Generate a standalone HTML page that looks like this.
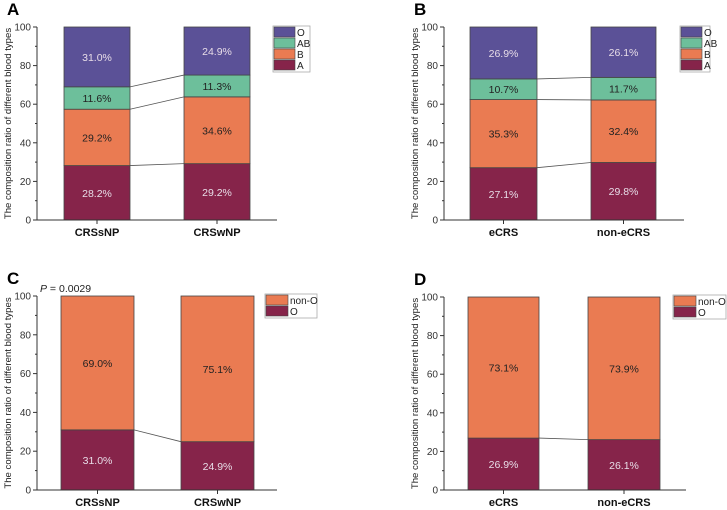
<!DOCTYPE html>
<html><head><meta charset="utf-8"><style>
body{margin:0;background:#fff}
svg{display:block;font-family:"Liberation Sans",Arial,sans-serif}
</style></head><body>
<svg id="fig" width="727" height="510" viewBox="0 0 727 510" xmlns="http://www.w3.org/2000/svg"></svg>
<script>
// Panel A
const catsA = ["CRSsNP","CRSwNP"];
const seriesA_A = [28.2,29.2];
const seriesA_B = [29.2,34.6];
const seriesA_AB = [11.6,11.3];
const seriesA_O = [31.0,24.9];
// Panel B
const catsB = ["eCRS","non-eCRS"];
const seriesB_A = [27.1,29.8];
const seriesB_B = [35.3,32.4];
const seriesB_AB = [10.7,11.7];
const seriesB_O = [26.9,26.1];
// Panel C
const catsC = ["CRSsNP","CRSwNP"];
const seriesC_O = [31.0,24.9];
const seriesC_nonO = [69.0,75.1];
// Panel D
const catsD = ["eCRS","non-eCRS"];
const seriesD_O = [26.9,26.1];
const seriesD_nonO = [73.1,73.9];
const yTicks = [0,20,40,60,80,100];
const legend4 = ["O","AB","B","A"];
const legend2 = ["non-O","O"];

const NS="http://www.w3.org/2000/svg";
const svg=document.getElementById('fig');
const COL={A:"#86244a",B:"#ea7b52",AB:"#6dbf9b",O:"#5b5197","non-O":"#ea7b52",O2:"#86244a"};
function mk(tag,attrs,parent,text){const e=document.createElementNS(NS,tag);for(const k in attrs)e.setAttribute(k,attrs[k]);if(text!==undefined)e.textContent=text;(parent||svg).appendChild(e);return e;}

function panel(cfg){
  const g=mk('g',{});
  
  
  const y=v=>cfg.y0-(cfg.y0-cfg.y100)*v/100;
  const lt=mk('text',{x:cfg.ax-30,y:cfg.y100-12,'font-size':17,'font-weight':'bold'},g,cfg.letter);
  
  
  const cum=cfg.cats.map(()=>0);
  const tops=[];
  cfg.series.forEach((s,si)=>{
    const row=[];
    cfg.cats.forEach((c,ci)=>{
      const b=cum[ci], t=b+s.vals[ci];cum[ci]=t;
      const x0=cfg.bars[ci][0],x1=cfg.bars[ci][1];
      const r=mk('rect',{x:x0,y:y(t),width:x1-x0,height:y(b)-y(t),fill:s.color,stroke:'#444','stroke-width':0.8},g);
      
      
      const tx=mk('text',{x:(x0+x1)/2,y:y((b+t)/2)+4,'font-size':10.5,'text-anchor':'middle',fill:s.light?'#e8dde8':'#222'},g,s.vals[ci].toFixed(1)+'%');
      
      
      row.push(t);
    });
    tops.push(row);
  });
  tops.slice(0,-1).forEach(row=>{
    const l=mk('line',{x1:cfg.bars[0][1],y1:y(row[0]),x2:cfg.bars[1][0],y2:y(row[1]),stroke:'#555','stroke-width':0.8},g);
    
    
  });
  const ya=mk('line',{x1:cfg.ax,y1:cfg.y100,x2:cfg.ax,y2:cfg.y0,stroke:'#333','stroke-width':1},g);
  
  
  const xa=mk('line',{x1:cfg.ax,y1:cfg.y0,x2:cfg.axEnd,y2:cfg.y0,stroke:'#333','stroke-width':1},g);
  
  
  yTicks.forEach(v=>{
    mk('line',{x1:cfg.ax-4,y1:y(v),x2:cfg.ax,y2:y(v),stroke:'#333'},g);
    if(v<100) mk('line',{x1:cfg.ax-2,y1:y(v+10),x2:cfg.ax,y2:y(v+10),stroke:'#333'},g);
    const t=mk('text',{x:cfg.ax-6,y:y(v)+3.5,'font-size':10,'text-anchor':'end',fill:'#333'},g,String(v));
    
    
  });
  cfg.cats.forEach((c,ci)=>{
    const cx=(cfg.bars[ci][0]+cfg.bars[ci][1])/2;
    mk('line',{x1:cx,y1:cfg.y0,x2:cx,y2:cfg.y0+4,stroke:'#333'},g);
    const t=mk('text',{x:cx,y:cfg.y0+16,'font-size':11,'font-weight':'bold','text-anchor':'middle',fill:'#111'},g,c);
    
    
  });
  const yt=mk('text',{x:0,y:0,'font-size':9.6,'text-anchor':'middle',fill:'#222',transform:`translate(${cfg.ax-26},${(cfg.y0+cfg.y100)/2}) rotate(-90)`},g,'The composition ratio of different blood types');
  
  
  const L=cfg.legend;
  const lg=mk('g',{},g);
  
  
  const rowH=11;
  mk('rect',{x:L.x,y:L.y,width:L.w,height:L.items.length*rowH+2,fill:'#fff',stroke:'#aaa','stroke-width':0.8},lg);
  L.items.forEach((it,i)=>{
    const e=mk('g',{},lg);
    
    
    mk('rect',{x:L.x+1,y:L.y+1+i*rowH,width:L.sw,height:rowH-1,fill:it.color,stroke:'#444','stroke-width':0.6},e);
    mk('text',{x:L.x+L.sw+3,y:L.y+i*rowH+10,'font-size':10,fill:'#222'},e,it.name);
  });
  if(cfg.p){
    const pt=mk('text',{x:cfg.ax+3,y:cfg.y100-4,'font-size':10.5,fill:'#222'},g);
    
    
    mk('tspan',{'font-style':'italic'},pt,'P');
    mk('tspan',{},pt,' = 0.0029');
  }
}
const L4=legend4.map(n=>({name:n,color:COL[n]}));
const L2=legend2.map(n=>({name:n,color:n==='O'?COL.O2:COL['non-O']}));
panel({letter:'A',cats:catsA,ax:37,axEnd:277,y100:27,y0:220,bars:[[64,130],[184,250]],
  series:[{name:'A',vals:seriesA_A,color:COL.A,light:1},{name:'B',vals:seriesA_B,color:COL.B},{name:'AB',vals:seriesA_AB,color:COL.AB},{name:'O',vals:seriesA_O,color:COL.O,light:1}],
  legend:{x:273,y:26,w:37,sw:21,items:L4}});
panel({letter:'B',cats:catsB,ax:444,axEnd:684,y100:27,y0:220,bars:[[470,537],[591,656]],
  series:[{name:'A',vals:seriesB_A,color:COL.A,light:1},{name:'B',vals:seriesB_B,color:COL.B},{name:'AB',vals:seriesB_AB,color:COL.AB},{name:'O',vals:seriesB_O,color:COL.O,light:1}],
  legend:{x:680,y:26,w:30,sw:21,items:L4}});
panel({letter:'C',cats:catsC,ax:37,axEnd:277,y100:296,y0:490,bars:[[61,134],[181,254]],p:true,
  series:[{name:'O',vals:seriesC_O,color:COL.O2,light:1},{name:'non-O',vals:seriesC_nonO,color:COL['non-O']}],
  legend:{x:265,y:294,w:52,sw:22,items:L2}});
panel({letter:'D',cats:catsD,ax:444,axEnd:686,y100:297,y0:490,bars:[[468,539],[588,660]],
  series:[{name:'O',vals:seriesD_O,color:COL.O2,light:1},{name:'non-O',vals:seriesD_nonO,color:COL['non-O']}],
  legend:{x:673,y:295,w:53,sw:22,items:L2}});
</script>
</body></html>
